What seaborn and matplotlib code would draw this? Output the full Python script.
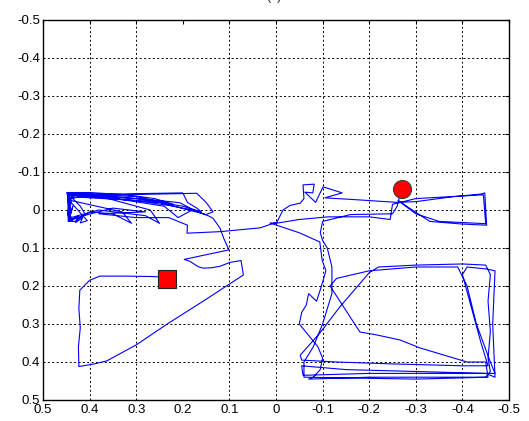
import matplotlib
matplotlib.use("Agg")
import matplotlib.pyplot as plt
import seaborn as sns
import pandas as pd

# ---- data ----
loop_x = [0.234, 0.249, 0.27, 0.32, 0.378, 0.40, 0.421, 0.423, 0.420, 0.424, 0.423, 0.39, 0.363, 0.30, 0.231,
          0.15, 0.07, 0.075, 0.099, 0.12, 0.138, 0.157, 0.167, 0.185, 0.197, 0.101, 0.112, 0.120, 0.135, 0.142,
          0.177, 0.206, 0.227]
loop_y = [0.178, 0.176, 0.175, 0.174, 0.174, 0.185, 0.211, 0.26, 0.31, 0.36, 0.412, 0.405, 0.397, 0.355, 0.298,
          0.235, 0.171, 0.133, 0.138, 0.148, 0.152, 0.153, 0.149, 0.135, 0.130, 0.105, 0.075, 0.048, 0.022, 0.017,
          0.0, -0.019, -0.022]

cluster_x = [0.30, 0.38, 0.44, 0.447, 0.445, 0.447, 0.443, 0.44, 0.40, 0.30, 0.20, 0.19, 0.17, 0.16, 0.20, 0.30,
             0.43, 0.445, 0.44, 0.42, 0.40, 0.35, 0.31, 0.33, 0.44, 0.447, 0.35, 0.25, 0.17, 0.15, 0.135, 0.15,
             0.25, 0.40, 0.445, 0.446, 0.43, 0.41, 0.42, 0.44, 0.30, 0.22, 0.18, 0.21, 0.24, 0.37, 0.447, 0.445,
             0.44, 0.38, 0.28, 0.25, 0.27, 0.36, 0.448, 0.442, 0.44, 0.425, 0.43, 0.415, 0.42, 0.405,
             0.44, 0.449, 0.40, 0.32, 0.26, 0.22, 0.30, 0.446, 0.443, 0.436, 0.444, 0.35, 0.28,
             0.38, 0.30, 0.23, 0.19, 0.191, 0.12, 0.034, -0.002]
cluster_y = [-0.03, -0.038, -0.042, -0.045, -0.02, 0.01, 0.03, -0.03, -0.04, -0.043, -0.045, -0.02, -0.005, 0.005,
             -0.01, -0.03, -0.04, -0.03, 0.025, 0.02, 0.005, 0.01, 0.035, 0.005, -0.025, -0.045, -0.04, -0.042,
             -0.044, -0.02, 0.005, 0.012, -0.02, -0.035, -0.04, 0.03, 0.03, 0.01, -0.01, -0.035, -0.025, -0.01,
             0.0, 0.02, -0.01, -0.035, -0.04, 0.0, 0.02, 0.0, 0.015, 0.035, 0.0, -0.03, -0.043, 0.028, 0.03,
             0.015, 0.033, 0.02, 0.034, 0.028,
             -0.02, -0.046, -0.046, -0.04, -0.03, -0.015, -0.035, -0.044, 0.02, -0.01, 0.025, -0.005, 0.005,
             0.01, 0.02, 0.02, 0.04, 0.061, 0.057, 0.047, 0.032]

upper_x = [-0.015, -0.03, -0.052, -0.06, -0.058, -0.082, -0.079, -0.062, -0.085, -0.101, -0.142, -0.105, -0.16,
           -0.26, -0.30, -0.38, -0.44, -0.448, -0.45, -0.452, -0.40, -0.33, -0.28, -0.262, -0.30, -0.35, -0.45,
           -0.445, -0.30, -0.25, -0.245, -0.20, -0.112, -0.05, 0.0, 0.013, -0.05, -0.094, -0.099]
upper_y = [0.0, -0.012, -0.018, -0.03, -0.066, -0.068, -0.045, -0.047, -0.02, -0.061, -0.045, -0.032, -0.028,
           -0.02, -0.022, -0.035, -0.042, -0.045, 0.0, 0.04, 0.037, 0.03, -0.01, -0.025, 0.01, 0.03, 0.036,
           -0.04, -0.03, -0.015, 0.025, 0.018, 0.018, 0.025, 0.035, 0.034, 0.06, 0.084, 0.132]

lower_x = [-0.107, -0.10, -0.095, -0.087, -0.07, -0.065, -0.055, -0.05, -0.07, -0.09, -0.10, -0.095, -0.08, -0.07,
           -0.20, -0.35, -0.45, -0.46, -0.455, -0.46, -0.455, -0.46, -0.45, -0.40, -0.30, -0.22, -0.20, -0.137,
           -0.094, -0.052, -0.055, -0.13, -0.25, -0.40, -0.455, -0.44, -0.42, -0.40, -0.41, -0.45, -0.47, -0.465,
           -0.47, -0.45, -0.30, -0.15, -0.055, -0.058, -0.20, -0.40, -0.47, -0.46, -0.43, -0.41, -0.39, -0.30,
           -0.20, -0.13, -0.116, -0.18, -0.217, -0.266, -0.309, -0.41, -0.45, -0.455, -0.30, -0.06, -0.06, -0.08,
           -0.10, -0.12, -0.12, -0.11, -0.10, -0.095, -0.10, -0.16, -0.25, -0.26, -0.265, -0.27]
lower_y = [0.16, 0.19, 0.21, 0.24, 0.22, 0.25, 0.27, 0.30, 0.33, 0.36, 0.39, 0.42, 0.44, 0.445, 0.44, 0.44, 0.44,
           0.425, 0.39, 0.32, 0.24, 0.17, 0.145, 0.142, 0.145, 0.15, 0.165, 0.255, 0.324, 0.382, 0.395, 0.40,
           0.405, 0.41, 0.41, 0.35, 0.26, 0.17, 0.15, 0.155, 0.16, 0.30, 0.44, 0.43, 0.425, 0.42, 0.41, 0.435,
           0.43, 0.43, 0.43, 0.40, 0.30, 0.20, 0.15, 0.15, 0.16, 0.18, 0.20, 0.321, 0.329, 0.342, 0.363, 0.40,
           0.40, 0.44, 0.445, 0.44, 0.40, 0.36, 0.30, 0.22, 0.15, 0.10, 0.08, 0.06, 0.03, 0.012, 0.01, -0.01,
           -0.035, -0.05]

start_xy = (0.234, 0.182)   # red square
end_xy = (-0.27, -0.055)    # red circle

x_ticks = [0.5, 0.4, 0.3, 0.2, 0.1, 0, -0.1, -0.2, -0.3, -0.4, -0.5]
x_labels = ["0.5", "0.4", "0.3", "0.2", "0.1", "0", "-0.1", "-0.2", "-0.3", "-0.4", "-0.5"]
y_ticks = [-0.5, -0.4, -0.3, -0.2, -0.1, 0, 0.1, 0.2, 0.3, 0.4, 0.5]
y_labels = ["-0.5", "-0.4", "-0.3", "-0.2", "-0.1", "0", "0.1", "0.2", "0.3", "0.4", "0.5"]

# ---- build ----
traj = pd.DataFrame({
    "x": loop_x + cluster_x + upper_x + lower_x,
    "y": loop_y + cluster_y + upper_y + lower_y,
})

sns.set_style("white")
plt.rcParams["font.family"] = ["Liberation Sans", "DejaVu Sans"]

fig = plt.figure(figsize=(5.29, 4.21), dpi=100)
ax = fig.add_axes([43 / 529, 1 - 400 / 421, 466 / 529, 380 / 421])

sns.lineplot(data=traj, x="x", y="y", sort=False, estimator=None, color="#0000ff",
             linewidth=0.8, ax=ax)
sns.scatterplot(x=[start_xy[0]], y=[start_xy[1]], marker="s", s=150, color="#ff0000",
                edgecolor="#202020", linewidth=0.8, ax=ax, zorder=5)
sns.scatterplot(x=[end_xy[0]], y=[end_xy[1]], marker="o", s=170, color="#ff0000",
                edgecolor="#404040", linewidth=0.8, ax=ax, zorder=5)

ax.set_xlim(0.5, -0.5)
ax.set_ylim(0.5, -0.5)
ax.set_xticks(x_ticks)
ax.set_xticklabels(x_labels)
ax.set_yticks(y_ticks)
ax.set_yticklabels(y_labels)
ax.set_xlabel("")
ax.set_ylabel("")
ax.tick_params(direction="in", length=3, labelsize=9.5, colors="black", pad=2,
               top=True, right=True)
ax.tick_params(axis="x", pad=3)
ax.grid(True, color="black", linestyle=(0, (2, 2.5)), linewidth=0.7)
for i, gl in enumerate(ax.xaxis.get_gridlines()):
    if x_ticks[i] == 0.2:
        gl.set_visible(False)
for s in ax.spines.values():
    s.set_color("black")
    s.set_linewidth(1.0)

fig.text(0.518, 0.994, "(b)", ha="center", va="bottom", fontsize=9)

fig.savefig("out.png", dpi=100, facecolor="white")
